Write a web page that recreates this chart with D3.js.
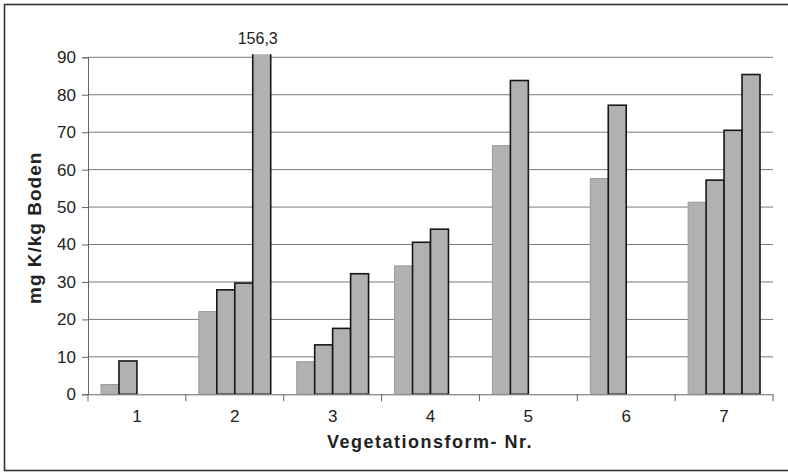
<!DOCTYPE html>
<html>
<head>
<meta charset="utf-8">
<script src="https://cdn.jsdelivr.net/npm/d3@7"></script>
<style>
  html, body { margin: 0; padding: 0; background: #fff; }
  svg { display: block; }
  text { font-family: "Liberation Sans", Arial, sans-serif; fill: #222; }
</style>
</head>
<body>
<svg id="chart" width="788" height="472"></svg>
<script>
// ---- data ----
const categories = ["1", "2", "3", "4", "5", "6", "7"];
const seriesNames = ["A", "B", "C", "D"];
const series1 = [2.6, 22.1, 8.7, 34.3, 66.4, 57.6, 51.3];
const series2 = [8.9, 27.9, 13.2, 40.6, 83.8, 77.2, 57.2];
const series3 = [null, 29.7, 17.6, 44.1, null, null, 70.5];
const series4 = [null, 156.3, 32.2, null, null, null, 85.4];
const yTicks = [0, 10, 20, 30, 40, 50, 60, 70, 80, 90];
const yTitle = "mg K/kg Boden";
const xTitle = "Vegetationsform- Nr.";
const outlierLabel = "156,3";

const allSeries = [series1, series2, series3, series4];

(function () {
const svg = d3.select("#chart");
const pL = 88, pR = 773, pT = 57.3, pB = 394.3;

// frame
svg.append("rect").attr("x", 4.5).attr("y", 4.5).attr("width", 790).attr("height", 466)
  .attr("fill", "none").attr("stroke", "#333").attr("stroke-width", 1.6);

const x0 = d3.scaleBand().domain(categories).range([pL, pR]).paddingInner(0).paddingOuter(0);
const x1 = d3.scaleBand().domain(seriesNames).range([13, x0.bandwidth() - 13]);
const y = d3.scaleLinear().domain([0, 90]).range([pB, pT]);

// grid
svg.append("g").selectAll("line").data(yTicks.filter(d => d > 0)).join("line")
  .attr("x1", pL).attr("x2", pR)
  .attr("y1", d => y(d)).attr("y2", d => y(d))
  .attr("stroke", "#7a7a7a").attr("stroke-width", 1);

// y axis
const yAxis = svg.append("g").attr("transform", `translate(${pL},0)`)
  .call(d3.axisLeft(y).tickValues(yTicks).tickSize(6).tickPadding(6));
yAxis.select(".domain").attr("stroke", "#666");
yAxis.selectAll(".tick line").attr("stroke", "#666");
yAxis.selectAll(".tick text").attr("font-size", 17).attr("fill", "#1e1e1e")
  .attr("font-family", "Liberation Sans, Arial, sans-serif");

const defs = svg.append("defs");
defs.append("clipPath").attr("id", "plotclip").append("rect")
  .attr("x", pL).attr("y", y(90) - 3).attr("width", pR - pL).attr("height", pB - y(90) + 3);

const barData = [];
categories.forEach((c, i) => {
  allSeries.forEach((s, j) => {
    if (s[i] != null) barData.push({ cat: c, ser: seriesNames[j], idx: j, v: s[i] });
  });
});

const bars = svg.append("g").attr("clip-path", "url(#plotclip)");
bars.selectAll("rect").data(barData).join("rect")
  .attr("x", d => x0(d.cat) + x1(d.ser))
  .attr("y", d => y(d.v))
  .attr("width", x1.bandwidth())
  .attr("height", d => pB - y(d.v))
  .attr("fill", "#b1b1b1")
  .attr("stroke", d => d.idx === 0 ? "#999" : "#161616")
  .attr("stroke-width", d => d.idx === 0 ? 1 : 1.6);

// x axis
const xAxis = svg.append("g").attr("transform", `translate(0,${pB})`)
  .call(d3.axisBottom(x0).tickSize(0).tickPadding(16));
xAxis.select(".domain").attr("stroke", "#666");
xAxis.selectAll(".tick text").attr("font-size", 17).attr("fill", "#1e1e1e")
  .attr("font-family", "Liberation Sans, Arial, sans-serif");
const bounds = categories.map(c => x0(c)).concat([pR]);
svg.append("g").selectAll("line").data(bounds).join("line")
  .attr("x1", d => d).attr("x2", d => d)
  .attr("y1", pB).attr("y2", pB + 7)
  .attr("stroke", "#666");

// outlier label
const outIdx = series4.findIndex(v => v != null && v > 90);
svg.append("text")
  .attr("x", x0(categories[outIdx]) + x1("D") + x1.bandwidth() / 2 - 4)
  .attr("y", 44)
  .attr("text-anchor", "middle")
  .attr("font-size", 16)
  .text(outlierLabel);

// axis titles
svg.append("text")
  .attr("transform", `translate(41,${(pT + pB) / 2 + 2}) rotate(-90)`)
  .attr("text-anchor", "middle")
  .attr("font-size", 19).attr("font-weight", "bold").attr("letter-spacing", 1)
  .text(yTitle);

svg.append("text")
  .attr("x", 430).attr("y", 448)
  .attr("text-anchor", "middle")
  .attr("font-size", 18).attr("font-weight", "bold").attr("letter-spacing", 1.5)
  .text(xTitle);
})();
</script>
</body>
</html>
